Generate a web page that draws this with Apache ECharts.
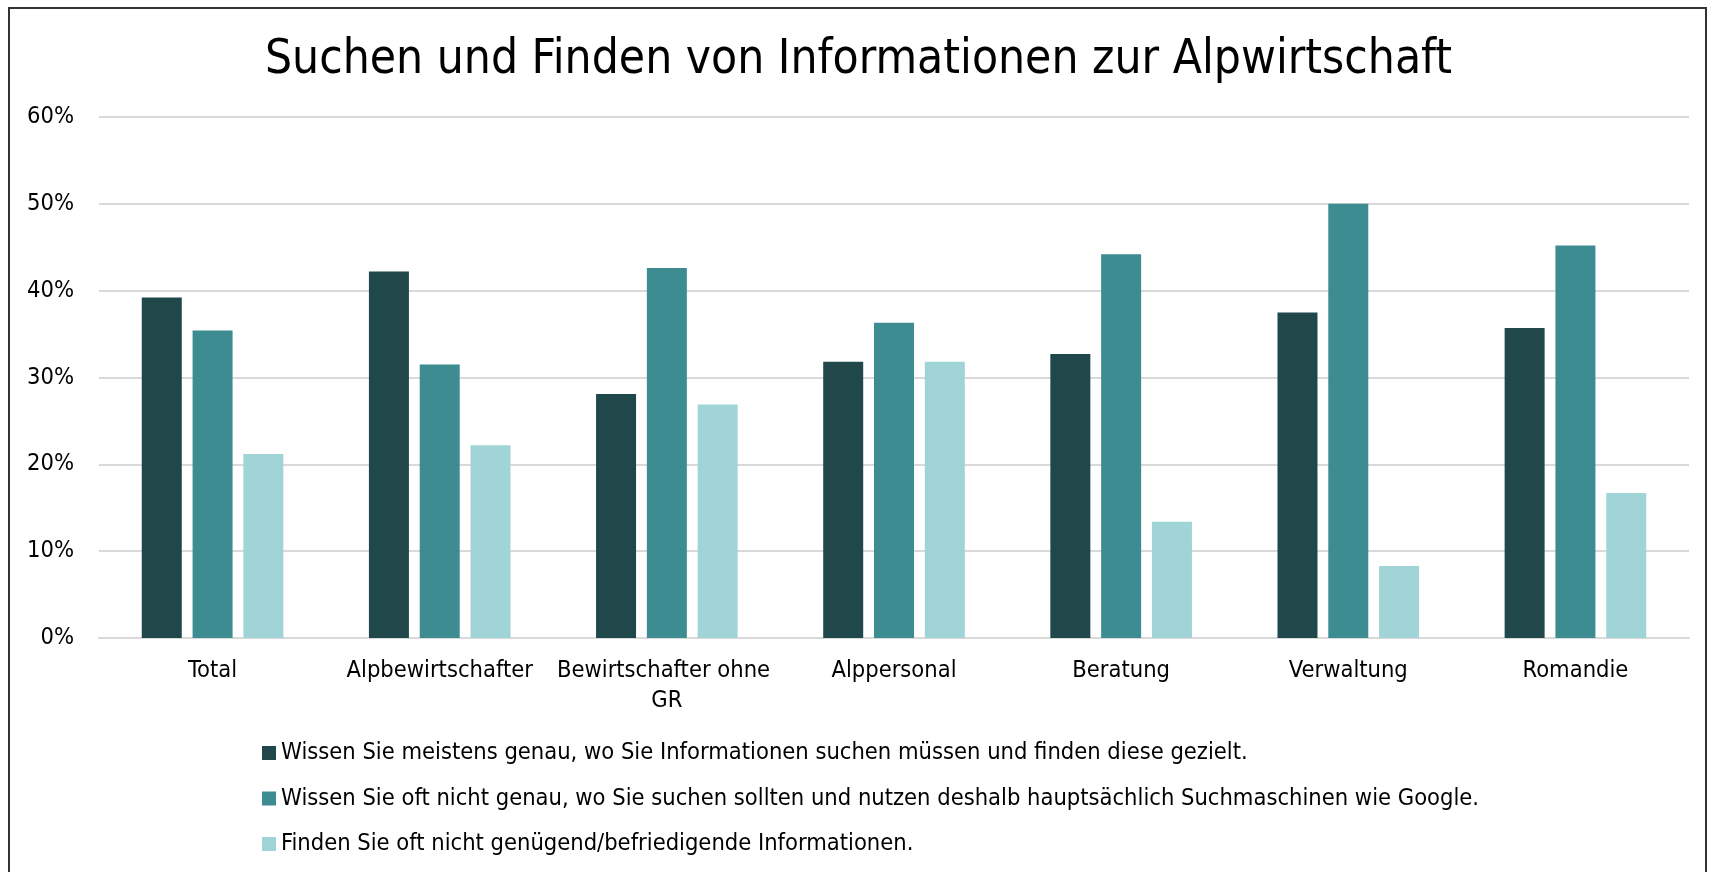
<!DOCTYPE html>
<html lang="de">
<head>
	<meta charset="utf-8">
	<title>Suchen und Finden von Informationen zur Alpwirtschaft</title>
	<script src="https://cdn.jsdelivr.net/npm/echarts@6/dist/echarts.min.js"></script>
	<style>
		html, body { margin: 0; padding: 0; background: #fff; overflow: hidden; }
		#main { width: 1717px; height: 872px; }
	</style>
</head>
<body>
	<div id="main"></div>

	<script type="text/javascript">
		// Gruppen
		var categories = ['Total', 'Alpbewirtschafter', 'Bewirtschafter ohne GR', 'Alppersonal', 'Beratung', 'Verwaltung', 'Romandie'];
		// Serien (Prozent)
		var seriesNames = [
			'Wissen Sie meistens genau, wo Sie Informationen suchen müssen und finden diese gezielt.',
			'Wissen Sie oft nicht genau, wo Sie suchen sollten und nutzen deshalb hauptsächlich Suchmaschinen wie Google.',
			'Finden Sie oft nicht genügend/befriedigende Informationen.'
		];
		var gezielt = [39.2, 42.2, 28.1, 31.8, 32.7, 37.5, 35.7];
		var suchmaschinen = [35.4, 31.5, 42.6, 36.3, 44.2, 50.0, 45.2];
		var ungenuegend = [21.2, 22.2, 26.9, 31.8, 13.4, 8.3, 16.7];
		// y-Achse
		var yTicks = [0, 10, 20, 30, 40, 50, 60];

		var colors = ['#20484a', '#3d8c92', '#a1d4d7'];
		var font = '"DejaVu Sans Condensed", "DejaVu Sans", sans-serif';

		var myChart = echarts.init(document.getElementById('main'));

		var option = {
			animation: false,
			color: colors,
			textStyle: { fontFamily: font },
			title: {
				text: 'Suchen und Finden von Informationen zur Alpwirtschaft',
				left: 'center',
				top: 32,
				textStyle: { fontFamily: font, fontSize: 47.5, fontWeight: 'normal', color: '#000' }
			},
			// Rahmen
			graphic: [{
				type: 'rect',
				silent: true,
				shape: { x: 9, y: 8, width: 1697, height: 900 },
				style: { fill: 'none', stroke: '#333', lineWidth: 2 }
			}],
			legend: {
				orient: 'vertical',
				left: 257,
				top: 736,
				itemWidth: 14,
				itemHeight: 14,
				itemGap: 21.5,
				icon: 'rect',
				data: seriesNames,
				textStyle: { fontFamily: font, fontSize: 23.5, color: '#000' }
			},
			grid: {
				left: 99,
				right: 28,
				top: 117,
				bottom: 234
			},
			xAxis: {
				type: 'category',
				data: categories,
				axisTick: { show: false },
				axisLine: { lineStyle: { color: '#d9d9d9', width: 2 } },
				axisLabel: {
					fontFamily: font,
					fontSize: 23.5,
					color: '#000',
					margin: 18,
					lineHeight: 30,
					width: 225,
					overflow: 'break',
					interval: 0
				}
			},
			yAxis: {
				type: 'value',
				min: yTicks[0],
				max: yTicks[yTicks.length - 1],
				interval: 10,
				axisLine: { show: false },
				axisTick: { show: false },
				splitLine: { lineStyle: { color: '#d9d9d9', width: 2 } },
				axisLabel: {
					fontFamily: font,
					fontSize: 23.5,
					color: '#000',
					margin: 25,
					formatter: '{value}%'
				}
			},
			series: [
				{ name: seriesNames[0], type: 'bar', data: gezielt, barWidth: 40, barGap: '27%' },
				{ name: seriesNames[1], type: 'bar', data: suchmaschinen, barWidth: 40, barGap: '27%' },
				{ name: seriesNames[2], type: 'bar', data: ungenuegend, barWidth: 40, barGap: '27%' }
			]
		};
		myChart.setOption(option);
	</script>
</body>
</html>
